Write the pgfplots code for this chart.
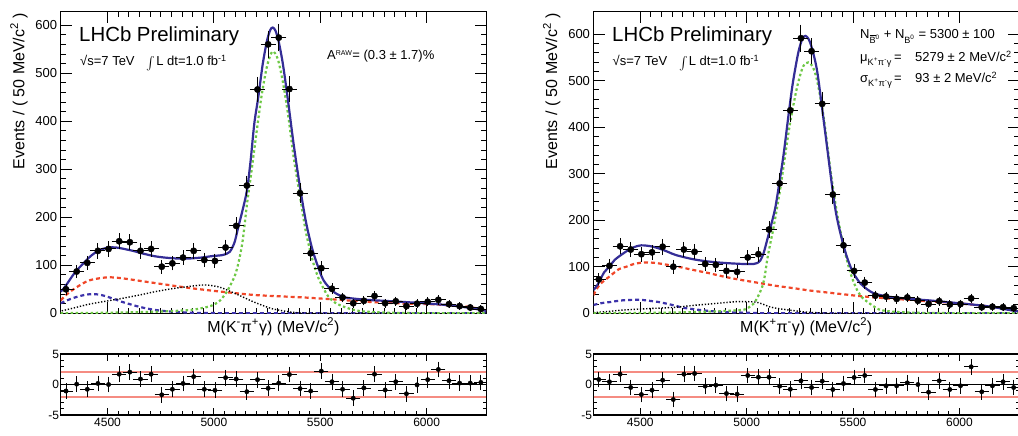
\documentclass[border=0pt]{standalone}
\usepackage{fontspec}
\setmainfont{Liberation Sans}
\usepackage{graphicx}
\usepackage{pgfplots}
\usepackage{pgfplotstable}
\pgfplotsset{compat=1.18}

\definecolor{fitblue}{RGB}{52,45,150}
\definecolor{siggreen}{RGB}{110,200,70}
\definecolor{bkgred}{RGB}{240,70,40}
\definecolor{bumpblue}{RGB}{60,50,170}
\definecolor{salmon}{RGB}{245,140,130}

\newcommand{\fs}[1]{\fontsize{#1}{#1}\selectfont}
\newcommand{\bigint}{\raisebox{-2.5pt}{\scalebox{1.3}{$\int$}}}

\pgfplotsset{
  rootbase/.style={
    scale only axis, width=425.5pt,
    xmin=4280, xmax=6280,
    xtick={4500,5000,5500,6000}, minor x tick num=9,
    axis line style={line width=1.1pt},
    tick style={black, line width=0.9pt},
    /pgf/number format/assume math mode=true,
    /pgf/number format/1000 sep={},
  },
  rootmain/.style={rootbase,
    height=301.6pt, ymin=0,
    ytick={0,100,...,600}, minor y tick num=4,
    major tick length=11pt, minor tick length=5.5pt,
    xticklabels={},
    tick label style={font=\fs{13}},
    label style={font=\fs{16}, inner sep=0pt},
    ylabel={Events / ( 50 MeV/c\textsuperscript{2} )},
    ylabel style={at={(axis description cs:-0.098,0.996)}, anchor=east},
    xlabel style={at={(axis description cs:0.5,-0.015)}, anchor=north},
  },
  rootres/.style={rootbase,
    height=61pt, ymin=-5, ymax=5,
    ytick={-5,0,5}, minor y tick num=4,
    major tick length=7pt, minor tick length=3.5pt,
    tick label style={font=\fs{12}},
    yticklabel style={xshift=2pt},
  },
  datapts/.style={black, only marks, mark=*, mark size=3.2pt,
    error bars/.cd, x dir=both, x fixed=25, y dir=both, y explicit,
    error bar style={line width=0.9pt, black},
    error mark options={black, line width=0.9pt, mark size=2.2pt}},
  respts/.style={black, only marks, mark=*, mark size=2.2pt,
    error bars/.cd, x dir=both, x fixed=25, y dir=both, y fixed=1,
    error bar style={line width=0.8pt, black},
    error mark options={black, line width=0.8pt, mark size=1.8pt}},
  totstyle/.style={fitblue, line width=2.2pt, smooth},
  sigstyle/.style={siggreen, line width=2.2pt, dash pattern=on 2.5pt off 2.5pt, smooth},
  bkgstyle/.style={bkgred, line width=2.2pt, dash pattern=on 4pt off 3pt, smooth},
  bumpstyle/.style={bumpblue, line width=2.2pt, dash pattern=on 4pt off 3pt, smooth},
  dotstyle/.style={black, line width=1.4pt, dash pattern=on 1.3pt off 1.8pt, smooth},
}

% ---------------- B0 -> K- pi+ gamma (left) ----------------
\pgfplotstableread{
x y e
4305 50 7.1
4355 87 9.3
4405 105 10.2
4455 130 11.4
4505 134 11.6
4555 150 12.2
4605 148 12.2
4655 130 11.4
4705 134 11.6
4755 97 9.8
4805 104 10.2
4855 116 10.8
4905 130 11.4
4955 111 10.5
5005 109 10.4
5055 137 11.7
5105 182 13.5
5155 266 16.3
5205 466 21.6
5255 560 23.7
5305 574 24.0
5355 467 21.6
5405 250 15.8
5455 125 11.2
5505 94 9.7
5555 51 7.1
5605 33 5.7
5655 21 4.6
5705 26 5.1
5755 36 6.0
5805 21 4.6
5855 25 5.0
5905 15 3.9
5955 20 4.5
6005 24 4.9
6055 28 5.3
6105 19 4.4
6155 15 3.9
6205 12 3.5
6255 9 3.0
}\dataL

\pgfplotstableread{
x y
4305 -1.07
4355 0.06
4405 -0.78
4455 0.17
4505 0.00
4555 1.69
4605 2.03
4655 0.90
4705 1.69
4755 -1.69
4805 -0.78
4855 0.17
4905 1.29
4955 -0.78
5005 -0.95
5055 1.12
5105 0.90
5155 -1.18
5205 0.79
5255 -0.62
5305 0.23
5355 1.63
5405 -0.67
5455 -1.07
5505 2.20
5555 0.45
5605 -0.78
5655 -2.25
5705 -0.56
5755 1.69
5805 -0.90
5855 0.45
5905 -1.52
5955 -0.06
6005 0.79
6055 2.47
6105 0.62
6155 0.23
6205 0.23
6255 0.34
}\resL

\pgfplotstableread{
x y
4280 45
4300 55
4347 85
4400 110
4426 121
4460 131
4504 137
4540 137
4567 135
4620 130
4661 125
4720 119
4770 116
4830 114
4880 114
4940 116
4990 119
5037 121
5060 124
5075 128
5090 140
5100 152
5115 180
5135 215
5155 255
5172 315
5190 395
5209 451
5230 520
5250 568
5265 590
5277 595
5290 588
5305 565
5324 520
5346 451
5375 352
5405 262
5433 190
5460 138
5484 104
5515 69
5562 45
5609 34
5650 31
5719 28
5800 26
5876 24
5950 22
6032 19.5
6100 17
6158 14
6220 10
6280 5
}\totL

\pgfplotstableread{
x y
4280 27
4310 40
4347 52
4380 61
4410 68
4450 72
4504 75
4567 73
4661 67
4770 60
4880 53
4974 48
5068 43.5
5194 38
5350 34.5
5421 33
5562 29
5719 24
5876 20.7
6032 18.6
6150 15.5
6189 13.8
6240 10
6280 5.5
}\bkgL

\pgfplotstableread{
x y
4280 21
4310 27
4347 33
4390 38
4426 40
4460 39
4488 36
4530 30
4567 24
4605 19
4645 14
4685 10
4724 7
4760 5
4802 3.5
4880 1.4
4950 0.7
5050 0.3
5200 0
6280 0
}\bumpL

\pgfplotstableread{
x y
4285 5
4350 12
4410 18.7
4490 25
4567 31
4650 38
4724 45
4800 51
4880 55.7
4951 59
5000 57
5037 53
5080 45
5131 35
5180 25
5225 17
5270 10
5319 5.5
5382 1.5
5450 0.3
5600 0
6280 0
}\dotL

\pgfplotstableread{
x y
4280 0.3
4400 0.7
4500 1.2
4600 2
4700 3
4800 4.5
4900 7.5
4967 13
5000 18
5030 27
5061 45
5085 65
5100 80
5115 104
5135 150
5155 225
5175 290
5200 375
5225 455
5250 515
5275 545
5300 530
5325 480
5350 410
5375 325
5405 243
5430 175
5450 135
5468 104
5490 75
5515 52
5538 35
5570 22
5609 14
5650 8
5700 4
5800 1.5
5900 0.6
6000 0.2
6280 0
}\sigL

% ---------------- B0bar -> K+ pi- gamma (right) ----------------
\pgfplotstableread{
x y e
4305 73 8.5
4355 102 10.1
4405 144 12.0
4455 137 11.7
4505 127 11.3
4555 131 11.4
4605 143 12.0
4655 100 10.0
4705 137 11.7
4755 132 11.5
4805 106 10.3
4855 104 10.2
4905 91 9.5
4955 89 9.4
5005 120 11.0
5055 127 11.3
5105 180 13.4
5155 279 16.7
5205 436 20.9
5255 591 24.3
5305 563 23.7
5355 450 21.2
5405 255 16.0
5455 146 12.1
5505 91 9.5
5555 66 8.1
5605 38 6.2
5655 36 6.0
5705 31 5.6
5755 34 5.8
5805 27 5.2
5855 20 4.5
5905 26 5.1
5955 19 4.4
6005 20 4.5
6055 32 5.7
6105 13 3.6
6155 14 3.7
6205 13 3.6
6255 11 3.3
}\dataR

\pgfplotstableread{
x y
4305 0.82
4355 0.44
4405 1.69
4455 -0.49
4505 -1.64
4555 -0.93
4605 0.71
4655 -2.46
4705 1.69
4755 1.80
4805 -0.27
4855 -0.11
4905 -1.48
4955 -1.58
5005 1.48
5055 1.20
5105 1.20
5155 -0.27
5205 -0.77
5255 0.60
5305 -0.49
5355 0.55
5405 -0.82
5455 0.16
5505 1.15
5555 1.48
5605 -0.82
5655 -0.22
5705 -0.22
5755 0.27
5805 0.00
5855 -1.26
5905 0.60
5955 -0.82
6005 -0.22
6055 2.90
6105 -1.20
6155 -0.22
6205 0.44
6255 -0.49
}\resR

\pgfplotstableread{
x y
4280 50
4300 62
4330 88
4355 100
4380 115
4434 133
4470 142
4504 146
4550 144
4590 139
4630 132
4668 125
4750 116
4825 111
4900 108
4982 106
5033 106
5050 108
5065 114
5080 130
5096 157
5115 190
5135 228
5155 285
5174 343
5195 420
5214 486
5230 530
5245 565
5262 590
5276 596
5290 590
5305 572
5331 521
5362 414
5402 271
5420 215
5441 171
5465 130
5488 100
5510 80
5535 64
5565 52
5597 43
5640 38
5680 35
5765 31
5850 28
5922 25
6000 21.5
6078 18
6150 14
6235 7
6280 4
}\totR

\pgfplotstableread{
x y
4280 39
4308 61
4355 79
4400 95
4434 100
4470 106
4512 109
4550 109
4590 107
4668 101
4750 93
4825 86
4900 78
4982 71
5060 65
5138 59
5220 54
5295 49
5373 45
5452 41
5530 37
5608 34
5690 31
5765 29
5850 26
5922 24
6000 21
6078 18
6150 14
6235 9
6280 5
}\bkgR

\pgfplotstableread{
x y
4280 18
4320 22
4355 24
4420 28
4496 29
4540 27
4590 24
4630 20
4668 16
4700 12
4747 9
4800 6
4825 5
4900 2.5
4982 1.4
5050 0.6
5200 0
6280 0
}\bumpR

\pgfplotstableread{
x y
4280 1.4
4350 4
4420 7
4496 9
4580 11
4668 13
4750 17
4825 20
4900 23
4950 25
5000 25
5044 24
5080 19
5107 14
5150 10
5217 6
5270 3
5300 2
5373 0.5
5450 0
6280 0
}\dotR

\pgfplotstableread{
x y
4280 0
4400 0.5
4550 1
4700 2
4850 4
4971 7
5000 10
5033 21
5055 38
5073 57
5085 80
5096 114
5110 148
5127 186
5159 271
5182 343
5206 414
5237 486
5265 530
5290 539
5310 530
5331 500
5362 421
5394 307
5425 214
5456 143
5488 86
5519 50
5545 33
5566 25
5600 14
5629 7
5700 3
5800 1.2
5900 0.5
6280 0
}\sigR

\begin{document}
\begin{tikzpicture}
\path[use as bounding box] (0pt,0pt) rectangle (1018pt,436pt);

% ---- left main ----
\begin{axis}[rootmain, at={(60.7pt,122.7pt)}, anchor=south west, ymax=628,
  xlabel={M(K\textsuperscript{-}π\textsuperscript{+}γ) (MeV/c\textsuperscript{2})}]
\addplot[bkgstyle] table {\bkgL};
\addplot[bumpstyle] table {\bumpL};
\addplot[dotstyle] table {\dotL};
\addplot[sigstyle] table {\sigL};
\addplot[totstyle] table {\totL};
\addplot[datapts] table[x=x, y=y, y error=e] {\dataL};
\end{axis}

% ---- left residuals ----
\begin{axis}[rootres, at={(60.7pt,21pt)}, anchor=south west]
\addplot[salmon, line width=1.8pt] coordinates {(4280,2) (6280,2)};
\addplot[salmon, line width=1.8pt] coordinates {(4280,-2) (6280,-2)};
\addplot[black, line width=1.1pt] coordinates {(4280,0) (6280,0)};
\addplot[respts] table {\resL};
\end{axis}

% ---- right main ----
\begin{axis}[rootmain, at={(593.5pt,122.7pt)}, anchor=south west, ymax=648,
  xlabel={M(K\textsuperscript{+}π\textsuperscript{-}γ) (MeV/c\textsuperscript{2})}]
\addplot[bkgstyle] table {\bkgR};
\addplot[bumpstyle] table {\bumpR};
\addplot[dotstyle] table {\dotR};
\addplot[sigstyle] table {\sigR};
\addplot[totstyle] table {\totR};
\addplot[datapts] table[x=x, y=y, y error=e] {\dataR};
\end{axis}

% ---- right residuals ----
\begin{axis}[rootres, at={(593.5pt,21pt)}, anchor=south west]
\addplot[salmon, line width=1.8pt] coordinates {(4280,2) (6280,2)};
\addplot[salmon, line width=1.8pt] coordinates {(4280,-2) (6280,-2)};
\addplot[black, line width=1.1pt] coordinates {(4280,0) (6280,0)};
\addplot[respts] table {\resR};
\end{axis}

% ---- annotations ----
\node[anchor=base west, inner sep=0pt, font=\fs{20.4}] at (79pt,394.5pt) {LHCb Preliminary};
\node[anchor=base west, inner sep=0pt, font=\fs{13}] at (80pt,370.5pt)
  {√s=7 TeV\hspace{12pt}\bigint\hspace{1pt}L dt=1.0 fb\textsuperscript{-1}};
\node[anchor=base west, inner sep=0pt, font=\fs{13}] at (327pt,376pt)
  {A\textsuperscript{\fs{7}RAW}= (0.3 ± 1.7)\%};

\node[anchor=base west, inner sep=0pt, font=\fs{20.4}] at (612pt,394.5pt) {LHCb Preliminary};
\node[anchor=base west, inner sep=0pt, font=\fs{13}] at (612.5pt,370.5pt)
  {√s=7 TeV\hspace{12pt}\bigint\hspace{1pt}L dt=1.0 fb\textsuperscript{-1}};
\node[anchor=base west, inner sep=0pt, font=\fs{13}] at (860pt,397pt)
  {N\textsubscript{$\overline{\mbox{B}}$\textsuperscript{0}} + N\textsubscript{B\textsuperscript{0}} = 5300 ± 100};
\node[anchor=base west, inner sep=0pt, font=\fs{13}] at (860pt,374pt)
  {μ\textsubscript{K\textsuperscript{+}π\textsuperscript{-}γ}};
\node[anchor=base west, inner sep=0pt, font=\fs{13}] at (894pt,374pt) {=};
\node[anchor=base west, inner sep=0pt, font=\fs{13}] at (915pt,374pt) {5279 ± 2 MeV/c\textsuperscript{2}};
\node[anchor=base west, inner sep=0pt, font=\fs{13}] at (860pt,353pt)
  {σ\textsubscript{K\textsuperscript{+}π\textsuperscript{-}γ}};
\node[anchor=base west, inner sep=0pt, font=\fs{13}] at (894pt,353pt) {=};
\node[anchor=base west, inner sep=0pt, font=\fs{13}] at (915pt,353pt) {93 ± 2 MeV/c\textsuperscript{2}};
\end{tikzpicture}
\end{document}
